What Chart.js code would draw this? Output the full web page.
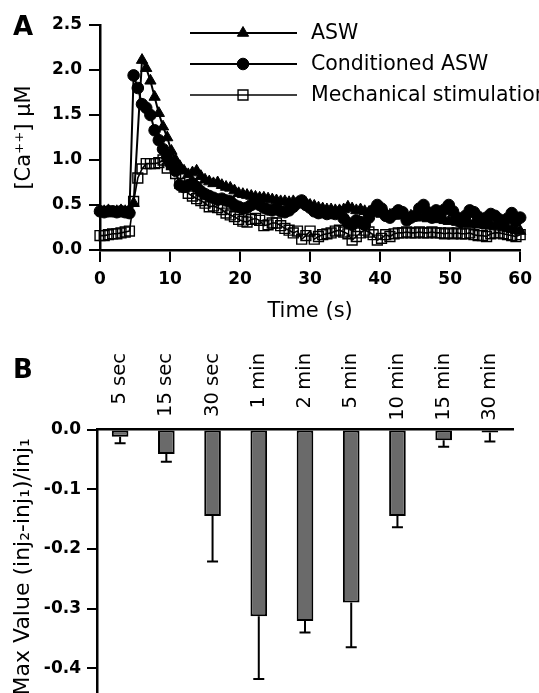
<!DOCTYPE html>
<html>
<head>
<meta charset="utf-8">
<script src="https://cdn.jsdelivr.net/npm/chart.js@4.4.1/dist/chart.umd.min.js"></script>
<style>
  html, body { margin: 0; padding: 0; background: #fff; overflow: hidden; }
  #chartA { position: absolute; left: 0; top: 0; }
  #chartB { position: absolute; left: 0; top: 330px; }
</style>
</head>
<body>
<canvas id="chartA" width="539" height="330"></canvas>
<canvas id="chartB" width="539" height="394"></canvas>
<script>
// Panel A: [Ca++] traces, one sample every 0.6 s (null = no marker in the figure)
const timeS = [
  0, 0.6, 1.2, 1.8, 2.4, 3.0, 3.6, 4.2, 4.8, 5.4,
  6.0, 6.6, 7.2, 7.8, 8.4, 9.0, 9.6, 10.2, 10.8, 11.4,
  12.0, 12.6, 13.2, 13.8, 14.4, 15.0, 15.6, 16.2, 16.8, 17.4,
  18.0, 18.6, 19.2, 19.8, 20.4, 21.0, 21.6, 22.2, 22.8, 23.4,
  24.0, 24.6, 25.2, 25.8, 26.4, 27.0, 27.6, 28.2, 28.8, 29.4,
  30.0, 30.6, 31.2, 31.8, 32.4, 33.0, 33.6, 34.2, 34.8, 35.4,
  36.0, 36.6, 37.2, 37.8, 38.4, 39.0, 39.6, 40.2, 40.8, 41.4,
  42.0, 42.6, 43.2, 43.8, 44.4, 45.0, 45.6, 46.2, 46.8, 47.4,
  48.0, 48.6, 49.2, 49.8, 50.4, 51.0, 51.6, 52.2, 52.8, 53.4,
  54.0, 54.6, 55.2, 55.8, 56.4, 57.0, 57.6, 58.2, 58.8, 59.4,
  60.0
];
const aswValues = [
  0.44, 0.43, 0.44, 0.42, 0.43, 0.44, 0.43, 0.45, 0.52, null,
  2.11, 2.02, 1.88, 1.70, 1.52, 1.37, 1.25, 1.10, 1.00, 0.93,
  0.88, 0.84, 0.86, 0.88, 0.82, 0.78, 0.76, 0.74, 0.75, 0.72,
  0.70, 0.69, 0.66, 0.63, 0.62, 0.61, 0.60, 0.59, 0.58, 0.58,
  0.57, 0.56, 0.55, 0.54, 0.54, 0.53, 0.54, 0.53, 0.54, 0.52,
  0.50, 0.49, 0.47, 0.46, 0.45, 0.45, 0.44, 0.44, 0.45, 0.48,
  0.46, 0.44, 0.45, 0.43, 0.42, 0.43, 0.41, 0.40, 0.41, 0.39,
  0.38, 0.39, 0.38, 0.37, 0.38, 0.36, 0.37, 0.36, 0.35, 0.36,
  0.34, 0.35, 0.33, 0.32, 0.33, 0.31, 0.30, 0.31, 0.29, 0.30,
  0.28, 0.29, 0.27, 0.28, 0.26, 0.27, 0.25, 0.24, 0.23, 0.22,
  0.21
];
const conditionedValues = [
  0.43, 0.42, 0.43, 0.43, 0.42, 0.43, 0.42, 0.41, 1.94, 1.80,
  1.62, 1.58, 1.50, 1.33, 1.22, 1.12, 1.03, 0.95, 0.88, 0.72,
  0.70, 0.72, 0.74, 0.70, 0.65, 0.62, 0.60, 0.58, 0.56, 0.57,
  0.55, 0.54, 0.50, 0.48, 0.46, 0.47, 0.50, 0.52, 0.50, 0.47,
  0.45, 0.44, 0.46, 0.43, 0.42, 0.44, 0.48, 0.52, 0.55, 0.50,
  0.47, 0.43, 0.41, 0.42, 0.40, 0.41, 0.40, 0.42, 0.35, 0.30,
  0.28, 0.33, 0.31, 0.28, 0.36, 0.44, 0.50, 0.46, 0.38, 0.36,
  0.40, 0.44, 0.42, 0.33, 0.36, 0.38, 0.46, 0.50, 0.42, 0.36,
  0.44, 0.40, 0.45, 0.50, 0.43, 0.36, 0.31, 0.38, 0.44, 0.42,
  0.37, 0.30, 0.36, 0.40, 0.38, 0.34, 0.30, 0.35, 0.41, 0.32,
  0.36
];
const mechanicalValues = [
  0.16, 0.16, 0.17, 0.18, 0.18, 0.19, 0.20, 0.21, 0.54, 0.80,
  0.90, 0.96, 0.96, 0.96, 0.97, 1.00, 0.91, 0.95, 0.85, 0.74,
  0.70, 0.63, 0.60, 0.57, 0.55, 0.52, 0.48, 0.49, 0.47, 0.45,
  0.41, 0.39, 0.37, 0.34, 0.32, 0.31, 0.34, 0.35, 0.33, 0.27,
  0.28, 0.30, 0.30, 0.27, 0.24, 0.22, 0.19, 0.21, 0.12, 0.16,
  0.21, 0.12, 0.15, 0.17, 0.18, 0.19, 0.21, 0.22, 0.20, 0.18,
  0.11, 0.15, 0.19, 0.22, 0.20, 0.17, 0.11, 0.13, 0.17, 0.15,
  0.18, 0.19, 0.19, 0.20, 0.19, 0.19, 0.20, 0.19, 0.19, 0.20,
  0.19, 0.19, 0.18, 0.19, 0.18, 0.19, 0.18, 0.18, 0.19, 0.17,
  0.16, 0.16, 0.15, 0.18, 0.19, 0.19, 0.18, 0.17, 0.16, 0.15,
  0.17
];

// Panel B: change of the max value between injections
const intervalLabels = ['5 sec', '15 sec', '30 sec', '1 min', '2 min', '5 min', '10 min', '15 min', '30 min'];
const meanChange = [-0.012, -0.041, -0.145, -0.313, -0.321, -0.290, -0.145, -0.018, -0.005];
const errChange = [0.011, 0.013, 0.076, 0.105, 0.019, 0.075, 0.019, 0.011, 0.015];

const FONT = '"DejaVu Sans", sans-serif';
const INK = '#000';

function toPoints(values) {
  return timeS.map((t, i) => ({ x: t, y: values[i] }));
}

// "A" / "B" in the upper left corner
function panelLetter(letter, x, y) {
  return {
    id: 'panelLetter' + letter,
    afterDraw(chart) {
      const ctx = chart.ctx;
      ctx.save();
      ctx.fillStyle = INK;
      ctx.font = 'bold 26px ' + FONT;
      ctx.textBaseline = 'alphabetic';
      ctx.fillText(letter, x, y);
      ctx.restore();
    },
  };
}

// legend of panel A: long line with the marker in the middle, like the figure
const legendRows = {
  id: 'legendRows',
  afterDraw(chart) {
    const ctx = chart.ctx;
    chart.data.datasets.forEach((ds, i) => {
      const y = 33 + i * 31;
      ctx.save();
      ctx.strokeStyle = ds.borderColor;
      ctx.lineWidth = ds.borderWidth;
      ctx.beginPath();
      ctx.moveTo(190, y);
      ctx.lineTo(297, y);
      ctx.stroke();
      ctx.fillStyle = ds.pointBackgroundColor;
      ctx.strokeStyle = ds.pointBorderColor;
      ctx.lineWidth = ds.pointBorderWidth;
      Chart.helpers.drawPoint(ctx, { pointStyle: ds.pointStyle, radius: ds.pointRadius, rotation: 0, borderWidth: ds.pointBorderWidth }, 243, y);
      ctx.fillStyle = INK;
      ctx.font = '20.5px ' + FONT;
      ctx.textBaseline = 'middle';
      ctx.textAlign = 'left';
      ctx.fillText(ds.label, 311, y + 1);
      ctx.restore();
    });
  },
};

new Chart(document.getElementById('chartA'), {
  type: 'line',
  data: {
    datasets: [
      { label: 'ASW', data: toPoints(aswValues), borderColor: INK, borderWidth: 2, pointStyle: 'triangle', spanGaps: true,
        pointRadius: 6.5, pointBackgroundColor: INK, pointBorderColor: INK, pointBorderWidth: 1, clip: false },
      { label: 'Conditioned ASW', data: toPoints(conditionedValues), borderColor: INK, borderWidth: 2, pointStyle: 'circle',
        pointRadius: 5.8, pointBackgroundColor: INK, pointBorderColor: INK, pointBorderWidth: 1, clip: false },
      { label: 'Mechanical stimulation', data: toPoints(mechanicalValues), borderColor: INK, borderWidth: 1.6, pointStyle: 'rect',
        pointRadius: 7, pointBackgroundColor: 'rgba(0,0,0,0)', pointBorderColor: INK, pointBorderWidth: 1.4, clip: false },
    ],
  },
  options: {
    responsive: false,
    animation: false,
    events: [],
    layout: { padding: { left: 0, right: 17, top: 25, bottom: 0 } },
    plugins: { legend: { display: false }, tooltip: { enabled: false } },
    scales: {
      x: {
        type: 'linear', min: 0, max: 60,
        afterFit: (s) => { s.height = 80; },
        ticks: { stepSize: 10, color: INK, padding: 7, font: { family: FONT, size: 17, weight: 'bold' } },
        grid: { drawOnChartArea: false, color: INK, lineWidth: 2, tickLength: 12 },
        border: { color: INK, width: 2.5 },
        title: { display: true, text: 'Time (s)', color: INK, font: { family: FONT, size: 21 }, padding: { top: 0, bottom: 6 } },
      },
      y: {
        min: 0, max: 2.5,
        afterFit: (s) => { s.width = 100; },
        ticks: { stepSize: 0.5, color: INK, padding: 7, font: { family: FONT, size: 17, weight: 'bold' },
          callback: (v) => Number(v).toFixed(1) },
        grid: { drawOnChartArea: false, color: INK, lineWidth: 2, tickLength: 11 },
        border: { color: INK, width: 2.5 },
        title: { display: true, text: '[Ca⁺⁺] μM', color: INK, font: { family: FONT, size: 21 }, padding: { top: 12, bottom: 0 } },
      },
    },
  },
  plugins: [legendRows, panelLetter('A', 13, 35)],
});

// category names above panel B, rotated and aligned on their end
const intervalNames = {
  id: 'intervalNames',
  afterDraw(chart) {
    const ctx = chart.ctx;
    const xs = chart.scales.x;
    ctx.save();
    ctx.fillStyle = INK;
    ctx.font = '19.5px ' + FONT;
    ctx.textAlign = 'right';
    ctx.textBaseline = 'middle';
    chart.data.labels.forEach((label, i) => {
      ctx.save();
      ctx.translate(xs.getPixelForValue(i), chart.chartArea.top - 76.5);
      ctx.rotate(-Math.PI / 2);
      ctx.fillText(label, 0, 0);
      ctx.restore();
    });
    ctx.restore();
  },
};

// one-sided error bars hanging below each bar
const errorBars = {
  id: 'errorBars',
  afterDatasetsDraw(chart) {
    const ctx = chart.ctx;
    const ys = chart.scales.y;
    const meta = chart.getDatasetMeta(0);
    ctx.save();
    ctx.strokeStyle = INK;
    ctx.lineWidth = 2;
    meta.data.forEach((bar, i) => {
      const yEnd = ys.getPixelForValue(meanChange[i] - errChange[i]);
      ctx.beginPath();
      ctx.moveTo(bar.x, bar.y);
      ctx.lineTo(bar.x, yEnd);
      ctx.moveTo(bar.x - 5.5, yEnd);
      ctx.lineTo(bar.x + 5.5, yEnd);
      ctx.stroke();
    });
    ctx.restore();
  },
};

new Chart(document.getElementById('chartB'), {
  type: 'bar',
  data: {
    labels: intervalLabels,
    datasets: [{ data: meanChange, backgroundColor: '#6a6a6a', borderColor: INK, borderWidth: 2, borderSkipped: false,
      barPercentage: 0.36, categoryPercentage: 1 }],
  },
  options: {
    responsive: false,
    animation: false,
    events: [],
    layout: { padding: { left: 0, right: 26, top: 0, bottom: 20 } },
    plugins: { legend: { display: false }, tooltip: { enabled: false } },
    scales: {
      x: {
        position: 'top',
        afterFit: (s) => { s.height = 99.5; },
        ticks: { display: false },
        grid: { display: false },
        border: { color: INK, width: 2.5 },
      },
      y: {
        min: -0.46, max: 0,
        afterFit: (s) => { s.width = 97; },
        ticks: { stepSize: 0.1, includeBounds: false, color: INK, padding: 6, font: { family: FONT, size: 17, weight: 'bold' },
          callback: (v) => Number(v).toFixed(1) },
        grid: { drawOnChartArea: false, color: INK, lineWidth: 2, tickLength: 10 },
        border: { color: INK, width: 2.5 },
        title: { display: true, text: 'Max Value (inj₂-inj₁)/inj₁', color: INK, font: { family: FONT, size: 22 }, padding: { top: 10, bottom: 0 } },
      },
    },
  },
  plugins: [intervalNames, errorBars, panelLetter('B', 13, 48)],
});
</script>
</body>
</html>
